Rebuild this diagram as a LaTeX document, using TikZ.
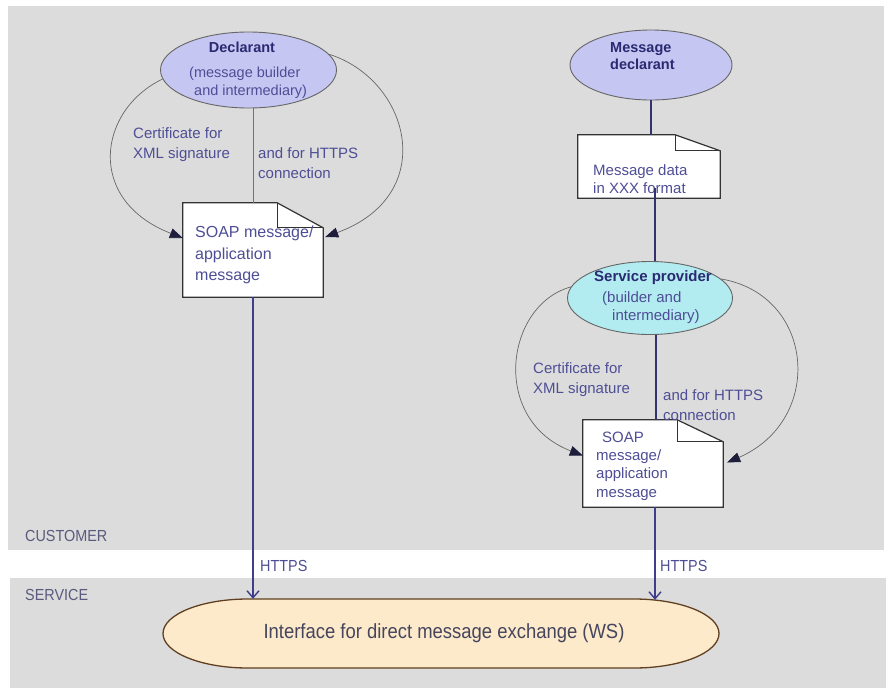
\documentclass[tikz,border=0pt]{standalone}
\usepackage{fontspec}
\setmainfont{Liberation Sans}
\newfontfamily\narrowfont[FakeStretch=0.9]{Liberation Sans}
\usetikzlibrary{arrows.meta,shapes.geometric}
\definecolor{bandgray}{HTML}{DCDCDC}
\definecolor{lblblue}{HTML}{4E4E96}
\definecolor{titleblue}{HTML}{2A2A72}
\definecolor{lavender}{HTML}{C6C6F2}
\definecolor{lightcyan}{HTML}{B2ECF0}
\definecolor{peach}{HTML}{FDEACB}
\definecolor{navyline}{HTML}{3E3E8A}
\definecolor{zonegray}{HTML}{5A5A7E}
\definecolor{tipcol}{HTML}{1E1E3C}
\definecolor{wstext}{HTML}{45455E}
\tikzset{
  actor/.style={ellipse, draw=black!60, line width=0.9pt, inner sep=0pt},
  docnode/.style={rectangle, draw=none, inner sep=0pt},
  lbl/.style={align=left, text=lblblue, font=\fontsize{15}{20}\selectfont, inner sep=0pt, anchor=north west},
  title/.style={text=titleblue, font=\bfseries\fontsize{14.5}{17}\selectfont, inner sep=0pt, align=left},
  zone/.style={text=zonegray, font=\narrowfont\fontsize{16}{18}\selectfont, inner sep=0pt, anchor=west},
  cert/.style={draw=black!60, line width=0.7pt, -{Triangle[length=13pt,width=10pt,color=tipcol]}},
  https/.style={draw=navyline, line width=1.4pt, -{Straight Barb[length=7pt,width=12pt,line width=1.4pt]}},
  plainline/.style={draw=black!55, line width=0.8pt},
  navyplain/.style={draw=navyline!80!black, line width=1.4pt},
}
\newcommand{\dogear}[3]{%
  \filldraw[fill=white, draw=black!80, line width=1.2pt]
    (#1.north west) -- ([xshift=-#2]#1.north east) -- ([yshift=-#3]#1.north east)
    -- (#1.south east) -- (#1.south west) -- cycle;
  \draw[black!80, line width=1.2pt] ([xshift=-#2]#1.north east) |- ([yshift=-#3]#1.north east);
}
\begin{document}
\begin{tikzpicture}[x=1pt,y=-1pt]
\useasboundingbox (0,0) rectangle (886,691);
% bands
\fill[bandgray] (8,6) rectangle (884,550);
\fill[bandgray] (10,578) rectangle (886,688);
\node[zone] (customer) at (25,535.5) {CUSTOMER};
\node[zone] (service) at (25,595) {SERVICE};

% ---------- left side ----------
\node[actor, fill=lavender, minimum width=176pt, minimum height=76pt] (decl) at (248.5,70) {};
\node[title] (decltitle) at (242,47) {Declarant};
\node[lbl, font=\fontsize{14.5}{18}\selectfont] (decltext) at (189,66.8) {(message builder\\\hspace*{5pt}and intermediary)};

\node[docnode, minimum width=140pt, minimum height=94pt] (soap1) at (253,250) {};
\dogear{soap1}{46pt}{25pt}
\node[lbl, font=\fontsize{16}{21.5}\selectfont] (soap1text) at (195,226) {SOAP message/\\application\\message};

\draw[plainline] (decl.south -| soap1.north) -- (soap1.north);
\draw[cert] (decl.186) .. controls (98,110) and (85,200) .. ([yshift=12pt]soap1.west);
\draw[cert] (decl.11) .. controls (410,80) and (440,195) .. ([xshift=2pt,yshift=13pt]soap1.east);

\node[lbl] (c1) at (133,127.5) {Certificate for\\XML signature};
\node[lbl] (h1) at (258,147.5) {and for HTTPS\\connection};

% ---------- right side ----------
\node[actor, fill=lavender, minimum width=162pt, minimum height=70pt] (mdecl) at (651,65) {};
\node[title, anchor=north west] (mdecltext) at (610,42.8) {Message\\declarant};

\node[docnode, minimum width=142pt, minimum height=63pt] (mdata) at (649,166.5) {};
\dogear{mdata}{45pt}{16pt}
\node[lbl, font=\fontsize{15}{18}\selectfont] (mdatatext) at (593,164.5) {Message data\\in XXX format};

\draw[navyplain] (mdecl.south) -- (mdecl.south |- mdata.north);

\node[actor, fill=lightcyan, minimum width=165pt, minimum height=73pt] (sp) at (650,298) {};
\node[title, font=\bfseries\fontsize{15}{17}\selectfont] (sptitle) at (653,278) {Service provider};
\node[lbl, font=\fontsize{15}{18}\selectfont] (sptext) at (602,291.6) {(builder and\\\hspace*{10pt}intermediary)};

\draw[navyplain] (655,188) -- (sp.north -| 655,0);

\node[docnode, minimum width=140pt, minimum height=87pt] (soap2) at (653,463.5) {};
\dogear{soap2}{46pt}{22pt}
\node[lbl, font=\fontsize{15}{18.3}\selectfont] (soap2text) at (596,431.5) {\hspace*{6pt}SOAP\\message/\\application\\message};

\draw[navyplain] (sp.south -| 656,0) -- (soap2.north -| 656,0);
\draw[cert] (sp.172) .. controls (505,305) and (490,420) .. ([yshift=8pt]soap2.west);
\draw[cert] (sp.15) .. controls (815,295) and (825,420) .. ([xshift=4pt,yshift=1pt]soap2.east);

\node[lbl] (c2) at (533,362.5) {Certificate for\\XML signature};
\node[lbl] (h2) at (663,389.5) {and for HTTPS\\connection};

% ---------- service ----------
\fill[peach] (248,599) -- (634,599) arc[start angle=-90,end angle=90,x radius=85,y radius=34.5]
  -- (248,668) arc[start angle=90,end angle=270,x radius=85,y radius=34.5] -- cycle;
\draw[draw=black!50!brown, line width=1.3pt] (248,599) -- (634,599) arc[start angle=-90,end angle=90,x radius=85,y radius=34.5]
  -- (248,668) arc[start angle=90,end angle=270,x radius=85,y radius=34.5] -- cycle;
\node[minimum width=555pt, minimum height=69pt, inner sep=0pt, text=wstext, font=\narrowfont\fontsize{20.5}{22}\selectfont] (ws) at (444,633.5) {Interface for direct message exchange (WS)};

\draw[https] (soap1.south) -- (ws.north -| soap1.south);
\draw[https] (soap2.south -| 655,0) -- ([yshift=-1pt]ws.north -| 655,0);

\node[zone, text=lblblue] (https1) at (260,565.5) {HTTPS};
\node[zone, text=lblblue] (https2) at (660,565.5) {HTTPS};
\end{tikzpicture}
\end{document}
